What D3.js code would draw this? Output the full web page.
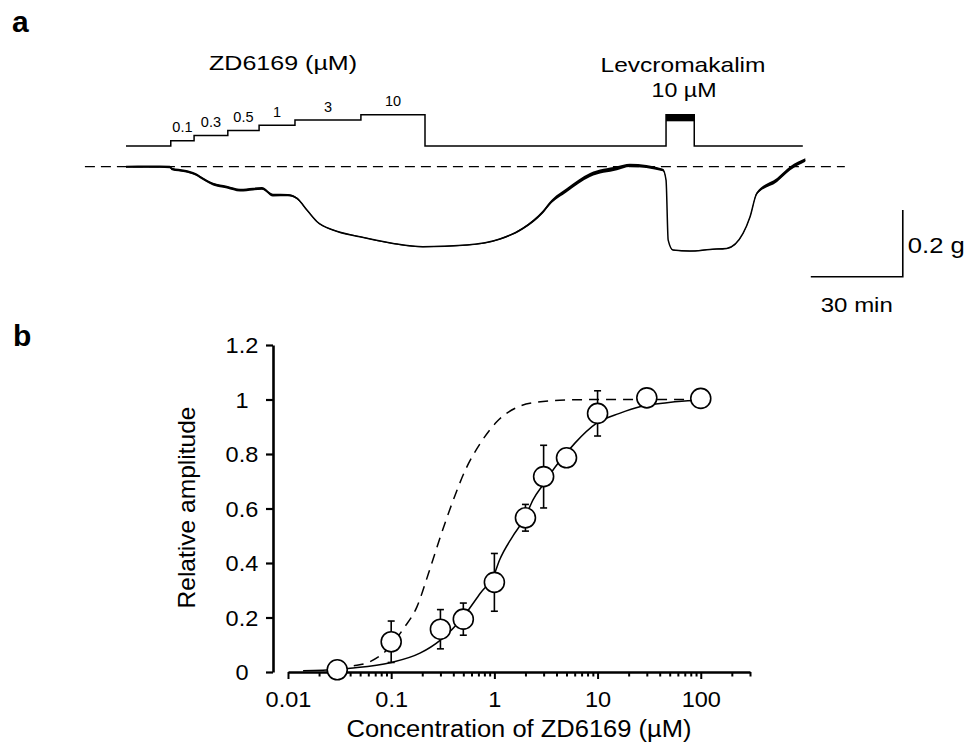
<!DOCTYPE html>
<html><head><meta charset="utf-8">
<script src="https://cdn.jsdelivr.net/npm/d3@7"></script>
<style>
body{margin:0;background:#fff}
svg{display:block}
text{font-family:"Liberation Sans",Arial,Helvetica,sans-serif;fill:#000}
</style></head>
<body><svg id="c" width="967" height="742"></svg>
<script>
// ---------- Panel a data ----------
// isometric tension trace: time (min) vs change in tension (g), with visible noise band width (g)
const traceTime = [0,7.8,14.3,15,19.2,22.5,25.8,28.4,32.9,37.2,41.4,44.3,47.9,52.8,55.8,59,62.3,67.5,76.3,87.1,96.8,111.2,121.9,129.4,136,138.2,143.8,151.3,160.1,164.3,175.1,176.1,176.8,178.4,183.9,190.4,195.9,201.2,203.5,205.7,212.3,216.6,221.5];
const traceTension = [0,0,-0.001,-0.007,-0.013,-0.022,-0.04,-0.052,-0.061,-0.07,-0.067,-0.065,-0.085,-0.085,-0.095,-0.13,-0.165,-0.19,-0.21,-0.23,-0.24,-0.235,-0.217,-0.185,-0.135,-0.11,-0.07,-0.025,-0.005,0.004,-0.01,-0.04,-0.22,-0.25,-0.253,-0.248,-0.245,-0.2,-0.15,-0.08,-0.04,-0.005,0.02];
const traceNoise = [0.006,0.007,0.007,0.008,0.008,0.008,0.008,0.008,0.008,0.008,0.008,0.008,0.008,0.007,0.006,0.004,0.003,0.003,0.003,0.003,0.003,0.003,0.004,0.006,0.009,0.01,0.012,0.012,0.012,0.01,0.008,0.003,0.002,0.002,0.002,0.002,0.002,0.003,0.004,0.008,0.012,0.012,0.01];
const zdLabels = ["0.1","0.3","0.5","1","3","10"];
const zdStart = [14.6,22.2,33.2,43.4,55.1,76.6];
const zdEnd = 97.5;
const protocolStart = 0, protocolEnd = 220.7;
const levStart = 176.1, levEnd = 185.3;
const baselineRange = [-13.4, 234.4];
const scaleBarTime = 30, scaleBarTension = 0.2;
const scaleBarT0 = 223.3, scaleBarG0 = -0.33;

// ---------- Panel b data ----------
const conc = [0.03,0.1,0.3,0.5,1,2,3,5,10,30,100];
const amp  = [0.008,0.111,0.157,0.194,0.329,0.566,0.717,0.786,0.949,1.006,1.004];
const sem  = [0,0.076,0.072,0.059,0.106,0.049,0.115,0,0.083,0,0];
const fitConc = [0.014,0.03,0.04,0.098,0.19,0.3,0.5,0.73,1.0,1.12,1.5,2.0,2.36,3.0,3.9,6.0,9.8,16.3,26.2,47,85,124];
const fitAmp  = [0.005,0.009,0.0135,0.034,0.069,0.117,0.203,0.289,0.36,0.41,0.497,0.57,0.631,0.69,0.753,0.839,0.913,0.949,0.974,0.988,0.996,0.997];
const dashConc = [0.03,0.04,0.0625,0.0875,0.132,0.178,0.23,0.3,0.389,0.523,0.73,1.06,1.72,2.36,4.97,10.5,115];
const dashAmp  = [0.008,0.02,0.038,0.075,0.16,0.24,0.362,0.497,0.619,0.741,0.839,0.919,0.974,0.988,0.998,1.0,1.0];
const yTicks = [0,0.2,0.4,0.6,0.8,1,1.2];
const xMajor = [0.01,0.1,1,10,100];
const yLabel = "Relative amplitude";
const xLabel = "Concentration of ZD6169 (µM)";

const svg = d3.select("#c");

function txt(g, x, y, s, size, opts={}) {
  const t = g.append("text").attr("x", x).attr("y", y).text(s)
    .attr("font-size", size)
    .attr("text-anchor", opts.anchor || "start")
    .attr("font-weight", opts.weight || "normal");
  if (opts.len) t.attr("textLength", opts.len).attr("lengthAdjust", "spacingAndGlyphs");
  return t;
}

// panel labels
txt(svg, 12, 32, "a", 30, {weight:"bold"});
txt(svg, 13, 346, "b", 30, {weight:"bold"});

// ---------- Panel a ----------
const xT = d3.scaleLinear().domain([0, 30]).range([126, 218]);
const yT = d3.scaleLinear().domain([0, -0.2]).range([166.7, 233.4]);
const yStep = d3.scaleLinear().domain([0, 6]).range([146, 114.8]);

const ga = svg.append("g");

// dashed baseline
ga.append("line")
  .attr("x1", xT(baselineRange[0])).attr("x2", xT(baselineRange[1]))
  .attr("y1", yT(0)).attr("y2", yT(0))
  .attr("stroke", "#000").attr("stroke-width", 1.3).attr("stroke-dasharray", "10,6");

// protocol step line
const stepPts = [[protocolStart, 0]];
zdStart.forEach((t, i) => { stepPts.push([t, i]); stepPts.push([t, i + 1]); });
stepPts.push([zdEnd, zdStart.length], [zdEnd, 0], [levStart, 0], [levStart, 6], [levEnd, 6], [levEnd, 0], [protocolEnd, 0]);
ga.append("path")
  .attr("d", d3.line().x(d => xT(d[0])).y(d => yStep(d[1]))(stepPts))
  .attr("fill", "none").attr("stroke", "#000").attr("stroke-width", 1.5);
ga.append("rect")
  .attr("x", xT(levStart)).attr("width", xT(levEnd) - xT(levStart))
  .attr("y", yStep(6)).attr("height", 6.5).attr("fill", "#000");

// step labels
zdLabels.forEach((s, i) => {
  const t1 = zdStart[i], t2 = i + 1 < zdStart.length ? zdStart[i + 1] : zdEnd;
  txt(ga, (xT(t1) + xT(t2)) / 2, yStep(i + 1) - 8.5, s, 14.5, {anchor:"middle"});
});
txt(ga, 283, 70, "ZD6169 (µM)", 21, {anchor:"middle", len:148});
txt(ga, 683, 71.7, "Levcromakalim", 21, {anchor:"middle", len:165});
txt(ga, 684, 96.7, "10 µM", 21, {anchor:"middle", len:65});

// trace (noise band + line)
const tracePts = traceTime.map((t, i) => ({t, g: traceTension[i], n: traceNoise[i]}));
ga.append("path")
  .attr("d", d3.area().x(d => xT(d.t)).y0(d => yT(d.g - d.n / 2)).y1(d => yT(d.g + d.n / 2))
    .curve(d3.curveMonotoneX)(tracePts))
  .attr("fill", "#000");
ga.append("path")
  .attr("d", d3.line().x(d => xT(d.t)).y(d => yT(d.g)).curve(d3.curveMonotoneX)(tracePts))
  .attr("fill", "none").attr("stroke", "#000").attr("stroke-width", 1.5).attr("stroke-linejoin", "round");

// scale bar
ga.append("path")
  .attr("d", d3.line()([
    [xT(scaleBarT0), yT(scaleBarG0)],
    [xT(scaleBarT0 + scaleBarTime), yT(scaleBarG0)],
    [xT(scaleBarT0 + scaleBarTime), yT(scaleBarG0 + scaleBarTension)]
  ]))
  .attr("fill", "none").attr("stroke", "#000").attr("stroke-width", 1.6);
txt(ga, xT(scaleBarT0 + scaleBarTime) + 5, 253, "0.2 g", 22, {len:57});
txt(ga, (xT(scaleBarT0) + xT(scaleBarT0 + scaleBarTime)) / 2, 311.7, "30 min", 21, {anchor:"middle", len:72});

// ---------- Panel b ----------
const xB = d3.scaleLog().domain([0.01, 300]).range([288, 750]);
const yB = d3.scaleLinear().domain([0, 1.2]).range([672, 345]);
const gb = svg.append("g");

// y axis
const yAx = gb.append("g").attr("transform", "translate(273,0)")
  .call(d3.axisLeft(yB).tickValues(yTicks).tickSize(7).tickSizeOuter(0)
    .tickFormat(d => d === 0 ? "0" : d === 1 ? "1" : d3.format(".1f")(d)));
yAx.select(".domain").attr("stroke-width", 2.6);
yAx.selectAll(".tick line").attr("stroke-width", 2.2);
yAx.selectAll(".tick text").attr("font-size", 22).attr("text-anchor", "middle")
  .attr("x", -29).attr("dy", "0.35em").attr("fill", "#000")
  .attr("font-family", "Liberation Sans, Arial, sans-serif")
  .attr("transform", "scale(1.07,1)");

// x axis
const xTickVals = [];
xMajor.forEach(d => { for (let k = 1; k <= 9; k++) { const v = d * k; if (v <= 300.0001) xTickVals.push(v); } });
const xAx = gb.append("g").attr("transform", "translate(0,672)")
  .call(d3.axisBottom(xB).tickValues(xTickVals).tickSize(4).tickSizeOuter(0)
    .tickFormat(d => xMajor.some(m => Math.abs(m - d) < 1e-9) ? d3.format("~g")(d) : ""));
xAx.select(".domain").attr("stroke-width", 2.6);
xAx.selectAll(".tick line").attr("stroke-width", 2)
  .attr("y2", d => xMajor.some(m => Math.abs(m - d) < 1e-9) ? 7 : 4.5);
xAx.selectAll(".tick text").attr("font-size", 22).attr("y", 35.5).attr("dy", 0).attr("fill", "#000")
  .attr("font-family", "Liberation Sans, Arial, sans-serif")
  .attr("transform", "scale(1.07,1)");

// axis titles
txt(gb, 0, 0, yLabel, 24, {anchor:"middle", len:202})
  .attr("transform", "translate(195,507.5) rotate(-90)");
txt(gb, 519, 737, xLabel, 23, {anchor:"middle", len:345});

// curves
const lineB = d3.line().x(d => xB(d[0])).y(d => yB(d[1])).curve(d3.curveMonotoneX);
gb.append("path").attr("d", lineB(dashConc.map((c, i) => [c, dashAmp[i]])))
  .attr("fill", "none").attr("stroke", "#000").attr("stroke-width", 1.5).attr("stroke-dasharray", "10,7");
gb.append("path").attr("d", lineB(fitConc.map((c, i) => [c, fitAmp[i]])))
  .attr("fill", "none").attr("stroke", "#000").attr("stroke-width", 1.5);

// error bars
const pts = conc.map((c, i) => ({c, a: amp[i], e: sem[i]})).filter(d => d.e > 0);
const eb = gb.append("g").attr("stroke", "#000").attr("stroke-width", 1.6);
pts.forEach(d => {
  const x = xB(d.c);
  eb.append("line").attr("x1", x).attr("x2", x).attr("y1", yB(d.a - d.e)).attr("y2", yB(d.a + d.e));
  eb.append("line").attr("x1", x - 3.5).attr("x2", x + 3.5).attr("y1", yB(d.a + d.e)).attr("y2", yB(d.a + d.e));
  eb.append("line").attr("x1", x - 3.5).attr("x2", x + 3.5).attr("y1", yB(d.a - d.e)).attr("y2", yB(d.a - d.e));
});

// points
gb.selectAll("circle.pt").data(conc.map((c, i) => [c, amp[i]])).enter().append("circle")
  .attr("class", "pt")
  .attr("cx", d => xB(d[0])).attr("cy", d => yB(d[1])).attr("r", 10)
  .attr("fill", "#fff").attr("stroke", "#000").attr("stroke-width", 1.6);
</script></body></html>
